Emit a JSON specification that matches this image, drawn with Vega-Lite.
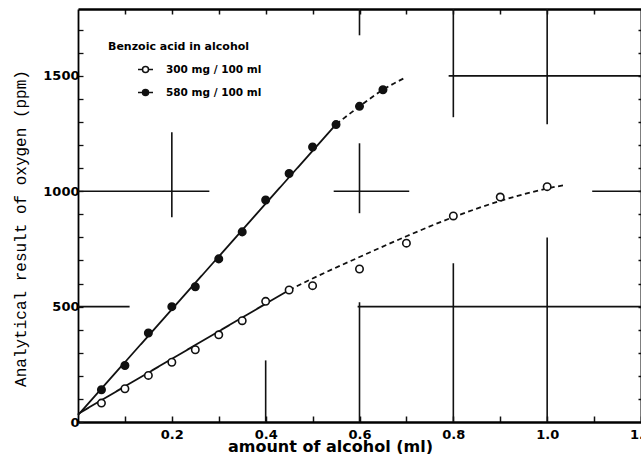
{
  "$schema": "https://vega.github.io/schema/vega-lite/v6.json",
  "width": 563,
  "height": 413,
  "autosize": "none",
  "padding": {"left": 78, "top": 9, "right": 0, "bottom": 32},
  "background": "white",
  "config": {"view": {"stroke": null}, "font": "DejaVu Sans"},
  "datasets": {
    "grid": [
      {"x": 0, "x2": 0.28, "y": 1000, "y2": 1000},
      {"x": 0.2, "x2": 0.2, "y": 887, "y2": 1256},
      {"x": 0.545, "x2": 0.706, "y": 1000, "y2": 1000},
      {"x": 0.6, "x2": 0.6, "y": 905, "y2": 1208},
      {"x": 0.6, "x2": 0.6, "y": 1676, "y2": 1790},
      {"x": 0.8, "x2": 0.8, "y": 1321, "y2": 1790},
      {"x": 1.0, "x2": 1.0, "y": 1290, "y2": 1790},
      {"x": 0.79, "x2": 1.2, "y": 1500, "y2": 1500},
      {"x": 1.096, "x2": 1.2, "y": 1000, "y2": 1000},
      {"x": 0, "x2": 0.11, "y": 500, "y2": 500},
      {"x": 0.596, "x2": 1.2, "y": 500, "y2": 500},
      {"x": 0.6, "x2": 0.6, "y": 0, "y2": 519},
      {"x": 0.8, "x2": 0.8, "y": 0, "y2": 688},
      {"x": 1.0, "x2": 1.0, "y": 0, "y2": 800},
      {"x": 0.4, "x2": 0.4, "y": 0, "y2": 267}
    ],
    "fit": [
      {"seg": "a1", "style": "solid", "x": 0, "y": 35},
      {"seg": "a1", "style": "solid", "x": 0.45, "y": 572},
      {"seg": "a2", "style": "dashed", "x": 0.45, "y": 572},
      {"seg": "a2", "style": "dashed", "x": 0.5, "y": 622},
      {"seg": "a2", "style": "dashed", "x": 0.6, "y": 715},
      {"seg": "a2", "style": "dashed", "x": 0.7, "y": 805},
      {"seg": "a2", "style": "dashed", "x": 0.8, "y": 888},
      {"seg": "a2", "style": "dashed", "x": 0.9, "y": 958},
      {"seg": "a2", "style": "dashed", "x": 1.0, "y": 1012},
      {"seg": "a2", "style": "dashed", "x": 1.04, "y": 1028},
      {"seg": "b1", "style": "solid", "x": 0, "y": 30},
      {"seg": "b1", "style": "solid", "x": 0.55, "y": 1290},
      {"seg": "b2", "style": "dashed", "x": 0.55, "y": 1290},
      {"seg": "b2", "style": "dashed", "x": 0.6, "y": 1368},
      {"seg": "b2", "style": "dashed", "x": 0.65, "y": 1440},
      {"seg": "b2", "style": "dashed", "x": 0.7, "y": 1495}
    ],
    "pts": [
      {"s": "300 mg / 100 ml", "x": 0.05, "y": 82},
      {"s": "300 mg / 100 ml", "x": 0.1, "y": 144},
      {"s": "300 mg / 100 ml", "x": 0.15, "y": 202},
      {"s": "300 mg / 100 ml", "x": 0.2, "y": 259},
      {"s": "300 mg / 100 ml", "x": 0.25, "y": 313},
      {"s": "300 mg / 100 ml", "x": 0.3, "y": 378},
      {"s": "300 mg / 100 ml", "x": 0.35, "y": 439},
      {"s": "300 mg / 100 ml", "x": 0.4, "y": 523},
      {"s": "300 mg / 100 ml", "x": 0.45, "y": 572},
      {"s": "300 mg / 100 ml", "x": 0.5, "y": 591},
      {"s": "300 mg / 100 ml", "x": 0.6, "y": 663},
      {"s": "300 mg / 100 ml", "x": 0.7, "y": 775},
      {"s": "300 mg / 100 ml", "x": 0.8, "y": 893},
      {"s": "300 mg / 100 ml", "x": 0.9, "y": 975},
      {"s": "300 mg / 100 ml", "x": 1.0, "y": 1020},
      {"s": "580 mg / 100 ml", "x": 0.05, "y": 140},
      {"s": "580 mg / 100 ml", "x": 0.1, "y": 245},
      {"s": "580 mg / 100 ml", "x": 0.15, "y": 386},
      {"s": "580 mg / 100 ml", "x": 0.2, "y": 500},
      {"s": "580 mg / 100 ml", "x": 0.25, "y": 586},
      {"s": "580 mg / 100 ml", "x": 0.3, "y": 707},
      {"s": "580 mg / 100 ml", "x": 0.35, "y": 824},
      {"s": "580 mg / 100 ml", "x": 0.4, "y": 962},
      {"s": "580 mg / 100 ml", "x": 0.45, "y": 1077},
      {"s": "580 mg / 100 ml", "x": 0.5, "y": 1192},
      {"s": "580 mg / 100 ml", "x": 0.55, "y": 1289},
      {"s": "580 mg / 100 ml", "x": 0.6, "y": 1368},
      {"s": "580 mg / 100 ml", "x": 0.65, "y": 1440}
    ]
  },
  "resolve": {"axis": {"x": "independent", "y": "independent"}},
  "layer": [
    {
      "data": {"name": "grid"},
      "mark": {"type": "rule", "color": "#111", "strokeWidth": 1.6},
      "encoding": {
        "x": {
          "field": "x", "type": "quantitative",
          "scale": {"domain": [0, 1.2], "nice": false, "zero": false},
          "axis": {
            "orient": "bottom",
            "values": [0.1, 0.2, 0.3, 0.4, 0.5, 0.6, 0.7, 0.8, 0.9, 1.0, 1.1, 1.2],
            "labelExpr": "round(datum.value * 10) % 2 == 0 ? format(datum.value, '.1f') : ''",
            "labelOverlap": false, "labelFlush": false,
            "grid": false,
            "domainColor": "#000", "domainWidth": 2.5,
            "tickColor": "#111", "tickWidth": 1.5, "tickSize": -6,
            "labelFont": "DejaVu Sans", "labelFontSize": 13, "labelFontWeight": "bold", "labelColor": "#000",
            "labelPadding": 12, "labelBaseline": "top",
            "title": "amount of alcohol (ml)",
            "titleFont": "DejaVu Sans", "titleFontSize": 16, "titleFontWeight": "bold", "titleColor": "#000",
            "titleX": 252, "titleY": 29, "titleAlign": "center", "titleBaseline": "alphabetic"
          }
        },
        "x2": {"field": "x2"},
        "y": {
          "field": "y", "type": "quantitative",
          "scale": {"domain": [0, 1790], "nice": false},
          "axis": {
            "orient": "left",
            "values": [0, 100, 200, 300, 400, 500, 600, 700, 800, 900, 1000, 1100, 1200, 1300, 1400, 1500, 1600, 1700],
            "labelExpr": "datum.value % 500 == 0 ? toString(datum.value) : ''",
            "labelOverlap": false, "labelFlush": false,
            "grid": false,
            "domainColor": "#000", "domainWidth": 1.8,
            "tickColor": "#111", "tickWidth": 1.3, "tickSize": -5,
            "labelFont": "DejaVu Sans", "labelFontSize": 13, "labelFontWeight": "bold", "labelColor": "#000",
            "labelPadding": 4,
            "title": "Analytical result of oxygen (ppm)",
            "titleFont": "Liberation Mono", "titleFontSize": 16, "titleFontWeight": "normal", "titleColor": "#000",
            "titleX": -58, "titleY": 219, "titleAngle": 270, "titleAlign": "center", "titleBaseline": "middle"
          }
        },
        "y2": {"field": "y2"}
      }
    },
    {
      "data": {"name": "fit"},
      "mark": {"type": "line", "color": "#111", "strokeWidth": 1.8, "interpolate": "monotone"},
      "encoding": {
        "x": {
          "field": "x", "type": "quantitative",
          "scale": {"domain": [0, 1.2], "nice": false, "zero": false},
          "axis": {
            "orient": "top",
            "values": [0.1, 0.2, 0.3, 0.4, 0.5, 0.6, 0.7, 0.8, 0.9, 1.0, 1.1],
            "labels": false, "grid": false, "title": null,
            "domainColor": "#000", "domainWidth": 2.5,
            "tickColor": "#111", "tickWidth": 1.5, "tickSize": -5
          }
        },
        "y": {
          "field": "y", "type": "quantitative",
          "scale": {"domain": [0, 1790], "nice": false},
          "axis": {
            "orient": "right",
            "values": [100, 200, 300, 400, 500, 600, 700, 800, 900, 1000, 1100, 1200, 1300, 1400, 1500, 1600, 1700],
            "labels": false, "grid": false, "title": null,
            "domainColor": "#000", "domainWidth": 2,
            "tickColor": "#111", "tickWidth": 1.5, "tickSize": -3
          }
        },
        "detail": {"field": "seg", "type": "nominal"},
        "strokeDash": {
          "field": "style", "type": "nominal",
          "scale": {"domain": ["solid", "dashed"], "range": [[1, 0], [5, 3.5]]},
          "legend": null
        }
      }
    },
    {
      "data": {"name": "pts"},
      "mark": {"type": "point", "shape": "circle", "filled": true, "stroke": "#111", "strokeWidth": 1.6, "size": 55, "opacity": 1},
      "encoding": {
        "x": {"field": "x", "type": "quantitative", "scale": {"domain": [0, 1.2], "nice": false, "zero": false}, "axis": null},
        "y": {"field": "y", "type": "quantitative", "scale": {"domain": [0, 1790], "nice": false}, "axis": null},
        "fill": {
          "field": "s", "type": "nominal",
          "scale": {"domain": ["300 mg / 100 ml", "580 mg / 100 ml"], "range": ["white", "#111"]},
          "legend": {
            "orient": "none", "legendX": 30, "legendY": 32,
            "title": "Benzoic acid in alcohol",
            "titleFont": "DejaVu Sans", "titleFontSize": 11, "titleFontWeight": "bold", "titleColor": "#000",
            "titlePadding": 9,
            "symbolType": "M-1,0H-0.4M0.4,0H1M-0.4,0A0.4,0.4,0,1,1,0.4,0A0.4,0.4,0,1,1,-0.4,0",
            "symbolSize": 225, "symbolStrokeColor": "#111", "symbolStrokeWidth": 1.5,
            "symbolOffset": 29,
            "labelFont": "DejaVu Sans", "labelFontSize": 10.5, "labelFontWeight": "bold", "labelColor": "#000",
            "labelOffset": 12, "rowPadding": 8, "padding": 0
          }
        }
      }
    }
  ]
}
